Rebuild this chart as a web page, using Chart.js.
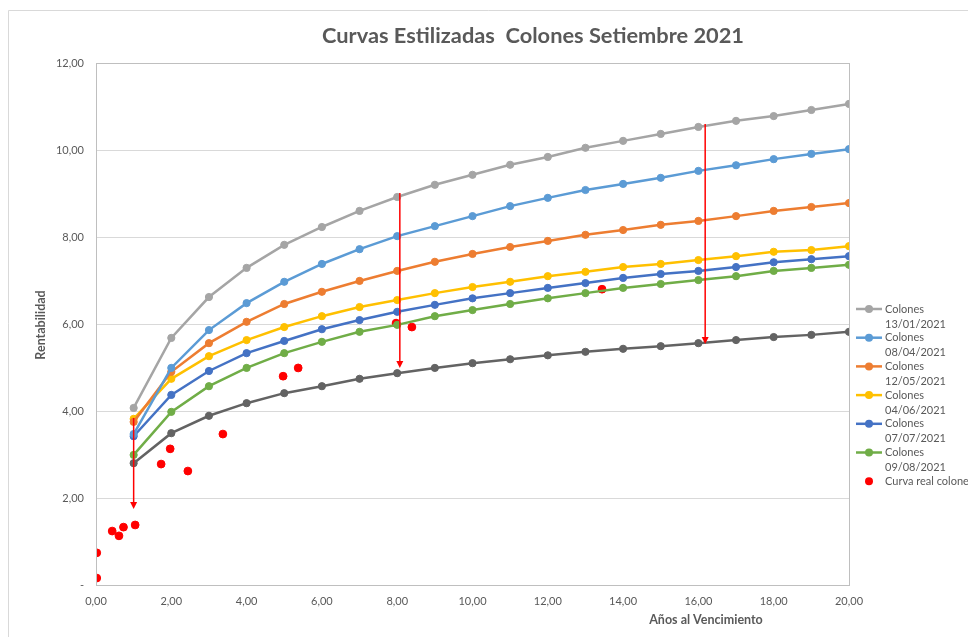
<!DOCTYPE html>
<html>
<head>
<meta charset="utf-8">
<title>Curvas Estilizadas Colones Setiembre 2021</title>
<script src="https://cdn.jsdelivr.net/npm/chart.js@4"></script>
<style>
  html, body { margin: 0; padding: 0; background: #fff; }
  canvas { display: block; }
</style>
</head>
<body>
<canvas id="myChart" width="968" height="637"></canvas>
<script>
var years = [1, 2, 3, 4, 5, 6, 7, 8, 9, 10, 11, 12, 13, 14, 15, 16, 17, 18, 19, 20];

var c1301 = [4.07, 5.68, 6.62, 7.29, 7.82, 8.23, 8.60, 8.92, 9.20, 9.43, 9.66, 9.84, 10.05, 10.21, 10.37, 10.53, 10.67, 10.78, 10.92, 11.06];
var c0804 = [3.47, 4.99, 5.86, 6.48, 6.97, 7.38, 7.72, 8.02, 8.25, 8.48, 8.71, 8.90, 9.08, 9.22, 9.36, 9.52, 9.65, 9.79, 9.91, 10.02];
var c1205 = [3.75, 4.90, 5.56, 6.05, 6.46, 6.74, 6.99, 7.22, 7.43, 7.61, 7.77, 7.91, 8.05, 8.16, 8.28, 8.37, 8.48, 8.60, 8.69, 8.78];
var c0406 = [3.82, 4.74, 5.26, 5.63, 5.93, 6.18, 6.39, 6.55, 6.71, 6.85, 6.97, 7.10, 7.20, 7.31, 7.38, 7.47, 7.56, 7.66, 7.70, 7.79];
var c0707 = [3.42, 4.37, 4.92, 5.33, 5.61, 5.88, 6.09, 6.28, 6.44, 6.59, 6.71, 6.83, 6.94, 7.06, 7.15, 7.22, 7.31, 7.42, 7.49, 7.56];
var c0908 = [2.99, 3.98, 4.57, 4.99, 5.33, 5.59, 5.82, 5.98, 6.18, 6.32, 6.46, 6.59, 6.71, 6.83, 6.92, 7.01, 7.10, 7.22, 7.29, 7.36];
var cSet = [2.80, 3.49, 3.89, 4.18, 4.41, 4.57, 4.74, 4.87, 4.99, 5.10, 5.19, 5.28, 5.36, 5.43, 5.49, 5.56, 5.63, 5.70, 5.75, 5.82];

// curva real (puntos rojos)
var realX = [0.02, 0.02, 0.43, 0.61, 0.73, 1.04, 1.73, 1.97, 2.44, 3.37, 4.97, 5.37, 7.97, 8.39, 13.44];
var realY = [0.74, 0.16, 1.24, 1.13, 1.33, 1.38, 2.78, 3.13, 2.62, 3.47, 4.80, 4.99, 6.02, 5.93, 6.80];

// flechas rojas
var arrowX = [1.0, 8.07, 16.18];
var arrowFrom = [3.84, 9.01, 10.6];
var arrowTo = [1.75, 4.99, 5.54];

var xTicks = [0, 2, 4, 6, 8, 10, 12, 14, 16, 18, 20];
var yTicks = [0, 2, 4, 6, 8, 10, 12];

var txt = '#595959';
var fontName = 'Lato, "Open Sans", sans-serif';

function pts(xs, ys) {
    var out = [];
    for (var i = 0; i < xs.length; i++) out.push({ x: xs[i], y: ys[i] });
    return out;
}

function curve(label, values, color, legend) {
    return {
        label: label,
        data: pts(years, values),
        borderColor: color,
        backgroundColor: color,
        pointBackgroundColor: color,
        pointBorderColor: color,
        borderWidth: 2.5,
        pointRadius: 3.6,
        pointBorderWidth: 1,
        showLine: true,
        tension: 0,
        inLegend: legend
    };
}

function fmt(v) {
    if (v === 0) return '-';
    return v.toFixed(2).replace('.', ',');
}

/* marco, titulos, flechas y leyenda */
var extras = {
    id: 'extras',
    beforeDraw: function (chart) {
        var c = chart.ctx;
        c.save();
        c.fillStyle = '#fff';
        c.fillRect(0, 0, chart.width, chart.height);
        c.strokeStyle = '#d9d9d9';
        c.lineWidth = 1;
        c.beginPath();
        c.moveTo(8.5, chart.height);
        c.lineTo(8.5, 10.5);
        c.lineTo(chart.width, 10.5);
        c.stroke();
        c.restore();
    },
    afterDraw: function (chart) {
        var c = chart.ctx;
        var a = chart.chartArea;
        c.save();
        c.strokeStyle = '#bfbfbf';
        c.lineWidth = 1;
        c.strokeRect(Math.round(a.left) + 0.5, Math.round(a.top) + 0.5, Math.round(a.right - a.left), Math.round(a.bottom - a.top));

        c.fillStyle = txt;
        c.textAlign = 'center';
        c.textBaseline = 'middle';
        c.font = 'bold 21.8px ' + fontName;
        c.fillText('Curvas Estilizadas  Colones Setiembre 2021', 533, 36);

        c.font = 'bold 12.5px ' + fontName;
        c.fillText('Años al Vencimiento', 706, 620);
        c.save();
        c.translate(41, 325);
        c.rotate(-Math.PI / 2);
        c.fillText('Rentabilidad', 0, 0);
        c.restore();

        // leyenda
        c.textAlign = 'left';
        c.font = '11px ' + fontName;
        var y = 309;
        chart.data.datasets.forEach(function (ds) {
            if (!ds.inLegend) return;
            if (ds.showLine) {
                c.strokeStyle = ds.borderColor;
                c.lineWidth = 2.5;
                c.beginPath();
                c.moveTo(856, y);
                c.lineTo(882, y);
                c.stroke();
            }
            c.fillStyle = ds.pointBackgroundColor;
            c.beginPath();
            c.arc(869, y, 4, 0, Math.PI * 2);
            c.fill();
            c.fillStyle = txt;
            var parts = ds.showLine ? ds.label.split(' ') : [ds.label];
            for (var i = 0; i < parts.length; i++) c.fillText(parts[i], 885, y + i * 15);
            y += 28.7;
        });
        c.restore();
    },
    afterDatasetsDraw: function (chart) {
        var c = chart.ctx;
        var xs = chart.scales.x, ys = chart.scales.y;
        c.save();
        c.strokeStyle = '#ff0000';
        c.fillStyle = '#ff0000';
        c.lineWidth = 1.5;
        for (var i = 0; i < arrowX.length; i++) {
            var px = xs.getPixelForValue(arrowX[i]);
            var y0 = ys.getPixelForValue(arrowFrom[i]);
            var y1 = ys.getPixelForValue(arrowTo[i]);
            c.beginPath();
            c.moveTo(px, y0);
            c.lineTo(px, y1 - 6);
            c.stroke();
            c.beginPath();
            c.moveTo(px - 3.5, y1 - 7);
            c.lineTo(px + 3.5, y1 - 7);
            c.lineTo(px, y1);
            c.closePath();
            c.fill();
        }
        c.restore();
    }
};

var ctx = document.getElementById('myChart').getContext('2d');
var myChart = new Chart(ctx, {
    type: 'scatter',
    data: {
        datasets: [
            curve('Colones 13/01/2021', c1301, '#a5a5a5', true),
            curve('Colones 08/04/2021', c0804, '#5b9bd5', true),
            curve('Colones 12/05/2021', c1205, '#ed7d31', true),
            curve('Colones 04/06/2021', c0406, '#ffc000', true),
            curve('Colones 07/07/2021', c0707, '#4472c4', true),
            curve('Colones 09/08/2021', c0908, '#70ad47', true),
            curve('Colones Setiembre 2021', cSet, '#636363', false),
            {
                label: 'Curva real colones',
                data: pts(realX, realY),
                showLine: false,
                backgroundColor: '#ff0000',
                borderColor: '#ff0000',
                pointBackgroundColor: '#ff0000',
                pointBorderColor: '#ff0000',
                pointRadius: 3.9,
                pointBorderWidth: 1,
                inLegend: true
            }
        ]
    },
    options: {
        responsive: false,
        animation: false,
        devicePixelRatio: 1,
        layout: { padding: { left: 46, right: 119, top: 63, bottom: 22 } },
        plugins: {
            legend: { display: false },
            title: { display: false },
            tooltip: { enabled: false }
        },
        scales: {
            x: {
                type: 'linear',
                min: 0,
                max: 20,
                afterBuildTicks: function (s) { s.ticks = xTicks.map(function (v) { return { value: v }; }); },
                afterFit: function (s) { s.height = 30; },
                grid: { display: false, drawTicks: false },
                border: { color: '#bfbfbf' },
                ticks: {
                    padding: 10,
                    color: txt,
                    font: { family: fontName, size: 11 },
                    maxRotation: 0,
                    callback: function (v) { return fmt(v).replace('-', '0,00'); }
                }
            },
            y: {
                min: 0,
                max: 12,
                afterBuildTicks: function (s) { s.ticks = yTicks.map(function (v) { return { value: v }; }); },
                afterFit: function (s) { s.width = 50; },
                grid: { color: '#d9d9d9', drawTicks: false },
                border: { color: '#bfbfbf' },
                ticks: {
                    padding: 12,
                    color: txt,
                    font: { family: fontName, size: 11 },
                    callback: function (v) { return fmt(v); }
                }
            }
        }
    },
    plugins: [extras]
});
</script>
</body>
</html>
